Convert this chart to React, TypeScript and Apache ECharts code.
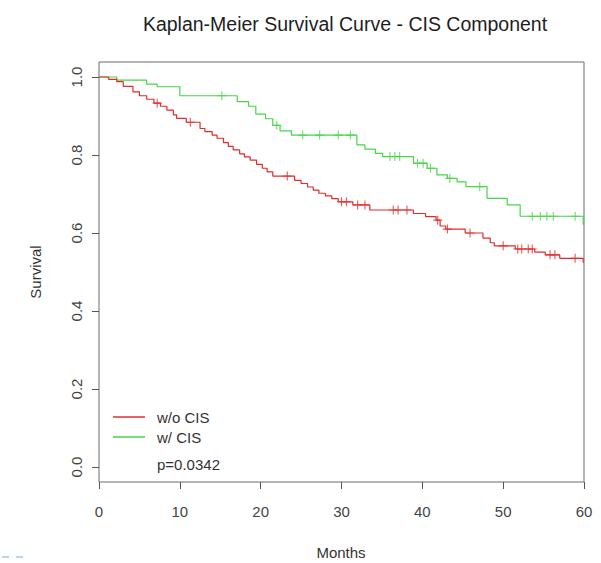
import React, { useEffect, useRef } from "react";
import * as echarts from "echarts";

// Kaplan-Meier step events: [month, survival after the drop]
const woCisSteps: [number, number][] = [
  [0, 1.0], [1.2, 0.994], [2.2, 0.988], [3.0, 0.976], [4.2, 0.962], [5.0, 0.952],
  [5.9, 0.943], [6.8, 0.933], [7.6, 0.925], [8.4, 0.915], [9.2, 0.903], [9.6, 0.894],
  [10.8, 0.884], [12.5, 0.868], [13.1, 0.86], [14.0, 0.851], [14.6, 0.843], [15.4, 0.832],
  [16.0, 0.822], [16.6, 0.813], [17.4, 0.803], [18.0, 0.795], [18.7, 0.787], [19.5, 0.776],
  [20.2, 0.766], [20.8, 0.757], [21.5, 0.746], [24.2, 0.735], [25.0, 0.727], [25.8, 0.718],
  [26.5, 0.71], [27.2, 0.702], [28.0, 0.695], [28.8, 0.688], [29.6, 0.68], [31.4, 0.672],
  [33.5, 0.659], [38.9, 0.65], [40.4, 0.642], [41.7, 0.633], [42.2, 0.618], [42.9, 0.61],
  [45.3, 0.6], [47.5, 0.587], [48.4, 0.575], [48.9, 0.567], [51.5, 0.559], [53.9, 0.551],
  [55.2, 0.544], [57.0, 0.535], [59.9, 0.525], [60, 0.525],
];
const woCisCensored: number[] = [
  7.2, 11.3, 23.3, 30.0, 30.6, 32.0, 32.9, 36.4, 37.0, 38.1, 41.9, 43.1, 45.9, 50.0,
  51.8, 52.3, 53.1, 53.6, 55.8, 56.4, 58.9,
];

const wCisSteps: [number, number][] = [
  [0, 1.0], [2.2, 0.992], [5.9, 0.982], [7.2, 0.975], [10.0, 0.952], [17.1, 0.937],
  [18.5, 0.925], [19.4, 0.905], [20.6, 0.893], [21.5, 0.876], [22.4, 0.862], [23.8, 0.851],
  [31.9, 0.826], [32.9, 0.815], [34.2, 0.804], [35.1, 0.796], [38.9, 0.779], [40.6, 0.766],
  [41.8, 0.749], [43.1, 0.74], [44.3, 0.731], [45.4, 0.719], [48.0, 0.689], [50.5, 0.672],
  [52.1, 0.643], [59.9, 0.622], [60, 0.622],
];
const wCisCensored: number[] = [
  15.2, 22.0, 25.2, 27.3, 29.6, 31.1, 36.0, 36.6, 37.2, 39.4, 40.1, 41.0, 43.4, 47.1,
  53.6, 54.6, 55.4, 56.2, 58.9,
];

const xTicks: number[] = [0, 10, 20, 30, 40, 50, 60];
const yTicks: number[] = [0, 0.2, 0.4, 0.6, 0.8, 1.0];
const seriesNames: string[] = ["w/o CIS", "w/ CIS"];
const pValueText = "p=0.0342";

const RED = "#e42a2a";
const GREEN = "#46d646";
const FONT = "Liberation Sans, Arial, sans-serif";
const PLUS = "path://M4.4,0H5.6V4.4H10V5.6H5.6V10H4.4V5.6H0V4.4H4.4Z";

function survivalAt(steps: [number, number][], t: number): number {
  let s = 1;
  for (const [ti, si] of steps) if (ti <= t) s = si;
  return s;
}

export default function App() {
  const ref = useRef<HTMLDivElement>(null);
  useEffect(() => {
    if (!ref.current) return;
    const chart = echarts.init(ref.current, undefined, { renderer: "svg" });
    chart.setOption({
      animation: false,
      backgroundColor: "#ffffff",
      title: {
        text: "Kaplan-Meier Survival Curve - CIS Component",
        left: 340,
        top: 9,
        textAlign: "center",
        textStyle: { fontFamily: FONT, fontSize: 19.5, fontWeight: "normal", color: "#1e1e1e" },
      },
      grid: {
        left: 99, right: 17, top: 62, bottom: 81,
        show: true, borderColor: "#6a6a6a", borderWidth: 1, backgroundColor: "transparent",
      },
      xAxis: {
        type: "value", min: xTicks[0], max: xTicks[xTicks.length - 1], interval: 10,
        position: "bottom",
        axisLine: { show: false, onZero: false },
        axisTick: { show: true, length: 7, lineStyle: { color: "#555" } },
        axisLabel: { margin: 22, fontFamily: FONT, fontSize: 15, color: "#444" },
        splitLine: { show: false },
      },
      yAxis: {
        type: "value", min: -0.0385, max: 1.0385,
        position: "left",
        axisLine: { show: false, onZero: false },
        axisTick: { show: true, length: 7, lineStyle: { color: "#555" }, customValues: yTicks },
        axisLabel: {
          customValues: yTicks, rotate: 90, margin: 15,
          formatter: (v: number) => v.toFixed(1),
          fontFamily: FONT, fontSize: 15, color: "#444",
        },
        splitLine: { show: false },
      },
      series: [
        {
          name: seriesNames[0], type: "line", step: "end", data: woCisSteps,
          showSymbol: false, lineStyle: { color: RED, width: 1.2 }, z: 3,
        },
        {
          name: seriesNames[1], type: "line", step: "end", data: wCisSteps,
          showSymbol: false, lineStyle: { color: GREEN, width: 1.2 }, z: 2,
        },
        {
          type: "scatter", symbol: PLUS, symbolSize: 9, z: 4,
          itemStyle: { color: RED },
          data: woCisCensored.map((t) => [t, survivalAt(woCisSteps, t)]),
        },
        {
          type: "scatter", symbol: PLUS, symbolSize: 9, z: 3,
          itemStyle: { color: GREEN },
          data: wCisCensored.map((t) => [t, survivalAt(wCisSteps, t)]),
        },
      ],
      graphic: [
        {
          type: "text", x: 35, y: 272, rotation: Math.PI / 2,
          style: { text: "Survival", fontFamily: FONT, fontSize: 15, fill: "#333", align: "center", verticalAlign: "middle" },
        },
        {
          type: "text", x: 341, y: 552,
          style: { text: "Months", fontFamily: FONT, fontSize: 15, fill: "#333", align: "center", verticalAlign: "middle" },
        },
        { type: "line", shape: { x1: 113, y1: 417, x2: 145, y2: 417 }, style: { stroke: RED, lineWidth: 1.5 } },
        { type: "line", shape: { x1: 113, y1: 437, x2: 145, y2: 437 }, style: { stroke: GREEN, lineWidth: 1.5 } },
        {
          type: "text", x: 157, y: 417,
          style: { text: seriesNames[0], fontFamily: FONT, fontSize: 15, fill: "#333", verticalAlign: "middle" },
        },
        {
          type: "text", x: 157, y: 437,
          style: { text: seriesNames[1], fontFamily: FONT, fontSize: 15, fill: "#333", verticalAlign: "middle" },
        },
        {
          type: "text", x: 157, y: 464,
          style: { text: pValueText, fontFamily: FONT, fontSize: 15, fill: "#333", verticalAlign: "middle" },
        },
        { type: "line", shape: { x1: 2, y1: 557, x2: 9, y2: 557 }, style: { stroke: "#a8c4e0", lineWidth: 1.5 } },
        { type: "line", shape: { x1: 16, y1: 557, x2: 23, y2: 557 }, style: { stroke: "#a8c4e0", lineWidth: 1.5 } },
      ],
    });
    return () => chart.dispose();
  }, []);
  return (
    <div
      ref={ref}
      style={{ position: "fixed", left: 0, top: 0, width: 601, height: 563, background: "#fff" }}
    />
  );
}
